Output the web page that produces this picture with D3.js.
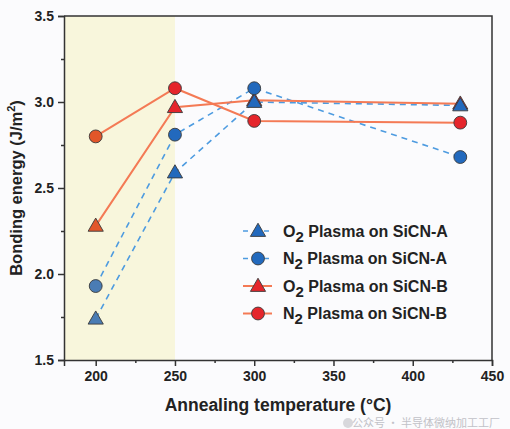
<!DOCTYPE html>
<html>
<head>
<meta charset="utf-8">
<script src="https://cdn.jsdelivr.net/npm/d3@7.9.0/dist/d3.min.js"></script>
<style>
  html, body { margin: 0; padding: 0; background: #fbfbfd; }
  svg { display: block; font-family: "Liberation Sans", Arial, sans-serif; }
</style>
</head>
<body>
<div id="chart"></div>
<script>
// annealing temperatures (°C)
const temps = [200, 250, 300, 430];

// bonding energy (J/m^2)
const o2SiCNA = [1.74, 2.59, 3.00, 2.98];
const n2SiCNA = [1.93, 2.81, 3.08, 2.68];
const o2SiCNB = [2.28, 2.97, 3.01, 2.99];
const n2SiCNB = [2.80, 3.08, 2.89, 2.88];

const xTicks = [200, 250, 300, 350, 400, 450];
const yTicks = [1.5, 2.0, 2.5, 3.0, 3.5];

const series = [
  { gas: 'O', film: 'SiCN-A', values: o2SiCNA, shape: 'triangle', group: 'A' },
  { gas: 'N', film: 'SiCN-A', values: n2SiCNA, shape: 'circle', group: 'A' },
  { gas: 'O', film: 'SiCN-B', values: o2SiCNB, shape: 'triangle', group: 'B' },
  { gas: 'N', film: 'SiCN-B', values: n2SiCNB, shape: 'circle', group: 'B' },
];

const width = 510, height = 429;
const margin = { top: 16, right: 18, bottom: 69, left: 64 };

const style = {
  A: { line: '#4d9be0', fill: '#2269bd', faded: '#4a7cb4', dash: '6,5', lw: 1.6 },
  B: { line: '#f47a55', fill: '#e5252b', faded: '#e2562a', dash: null, lw: 2 },
};

const svg = d3.select('#chart')
  .append('svg')
  .attr('width', width)
  .attr('height', height);

svg.append('rect').attr('width', width).attr('height', height).attr('fill', '#fbfbfd');

const x = d3.scaleLinear().domain([180, 450]).range([margin.left, width - margin.right]);
const y = d3.scaleLinear().domain([1.5, 3.5]).range([height - margin.bottom, margin.top]);

// shaded low-temperature window
svg.append('rect')
  .attr('x', x(180))
  .attr('y', y(3.5))
  .attr('width', x(250) - x(180))
  .attr('height', y(1.5) - y(3.5))
  .attr('fill', '#f8f6dc');

// watermark, kept clear of the axis title
const wm = svg.append('g').attr('class', 'watermark');
wm.append('circle').attr('cx', 348).attr('cy', 423).attr('r', 5).attr('fill', '#d8d8dc');
wm.append('text')
  .attr('x', 500).attr('y', 427)
  .attr('text-anchor', 'end')
  .attr('font-family', '"Noto Sans CJK SC", sans-serif')
  .attr('font-size', 11)
  .attr('fill', '#c2c2c8')
  .text('公众号 · 半导体微纳加工工厂');

// lines
const line = d3.line().x((d, i) => x(temps[i])).y(d => y(d));
series.forEach(s => {
  const st = style[s.group];
  svg.append('path')
    .datum(s.values)
    .attr('d', line)
    .attr('fill', 'none')
    .attr('stroke', st.line)
    .attr('stroke-width', st.lw)
    .attr('stroke-dasharray', st.dash);
});

const tri = d3.symbol(d3.symbolTriangle, 100);
const circ = d3.symbol(d3.symbolCircle, 130);

function drawMarker(g, shape, cx, cy, fill) {
  g.append('path')
    .attr('d', shape === 'triangle' ? tri() : circ())
    .attr('transform', `translate(${cx},${cy + (shape === 'triangle' ? 1 : 0)})`)
    .attr('fill', fill)
    .attr('stroke', '#3a3a3a')
    .attr('stroke-width', 0.9);
}

// markers (drawn in order so blue circles end up on top at 300)
const markers = svg.append('g');
[2, 3, 0, 1].forEach(k => {
  const s = series[k];
  const st = style[s.group];
  s.values.forEach((v, i) => {
    drawMarker(markers, s.shape, x(temps[i]), y(v), temps[i] < 250 ? st.faded : st.fill);
  });
});

// axes
const axisColor = '#333';
svg.append('g')
  .attr('transform', `translate(0,${y(1.5)})`)
  .call(d3.axisBottom(x).tickValues(xTicks).tickSize(6).tickPadding(5).tickFormat(d3.format('d')));
svg.append('g')
  .attr('transform', `translate(0,${y(1.5)})`)
  .call(d3.axisBottom(x).tickValues([225, 275, 325, 375, 425]).tickSize(3).tickFormat(''))
  .call(g => g.select('.domain').remove());
svg.append('g')
  .attr('transform', `translate(${x(180)},0)`)
  .call(d3.axisLeft(y).tickValues(yTicks).tickSize(6).tickPadding(4).tickFormat(d3.format('.1f')));
svg.append('g')
  .attr('transform', `translate(${x(180)},0)`)
  .call(d3.axisLeft(y).tickValues([1.75, 2.25, 2.75, 3.25]).tickSize(3).tickFormat(''))
  .call(g => g.select('.domain').remove());

svg.selectAll('.domain, .tick line').attr('stroke', axisColor).attr('stroke-width', 1.5);
svg.selectAll('.tick text')
  .attr('font-family', '"Liberation Sans", Arial, sans-serif')
  .attr('font-size', 14)
  .attr('font-weight', 'bold')
  .attr('fill', '#222');

// top and right frame
svg.append('path')
  .attr('d', `M${x(180)},${y(3.5)}H${x(450)}V${y(1.5)}`)
  .attr('fill', 'none')
  .attr('stroke', axisColor)
  .attr('stroke-width', 1.5);

// axis titles
svg.append('text')
  .attr('x', (x(180) + x(450)) / 2)
  .attr('y', 411)
  .attr('text-anchor', 'middle')
  .attr('font-size', 17.5)
  .attr('font-weight', 'bold')
  .attr('fill', '#222')
  .text('Annealing temperature (°C)');

const yt = svg.append('text')
  .attr('transform', `translate(22,${(y(1.5) + y(3.5)) / 2}) rotate(-90)`)
  .attr('text-anchor', 'middle')
  .attr('font-size', 16.5)
  .attr('font-weight', 'bold')
  .attr('fill', '#222');
yt.append('tspan').text('Bonding energy (J/m');
yt.append('tspan').attr('font-size', 11).attr('dy', -7).text('2');
yt.append('tspan').attr('dy', 7).text(')');

// legend
const legend = svg.append('g').attr('transform', 'translate(243,231)');
series.forEach((s, i) => {
  const st = style[s.group];
  const row = legend.append('g').attr('transform', `translate(0,${i * 27.5})`);
  row.append('line')
    .attr('x1', 0).attr('x2', 29).attr('y1', 0).attr('y2', 0)
    .attr('stroke', st.line)
    .attr('stroke-width', st.lw)
    .attr('stroke-dasharray', st.dash ? '5,5.5' : null);
  drawMarker(row, s.shape, 15, 0, st.fill);
  const t = row.append('text')
    .attr('x', 40).attr('y', 5.5)
    .attr('font-size', 16)
    .attr('font-weight', 'bold')
    .attr('fill', '#222');
  t.append('tspan').text(s.gas);
  t.append('tspan').attr('dy', 5).attr('font-size', 15).text('2');
  t.append('tspan').attr('dy', -5).text(' Plasma on ' + s.film);
});
</script>
</body>
</html>
